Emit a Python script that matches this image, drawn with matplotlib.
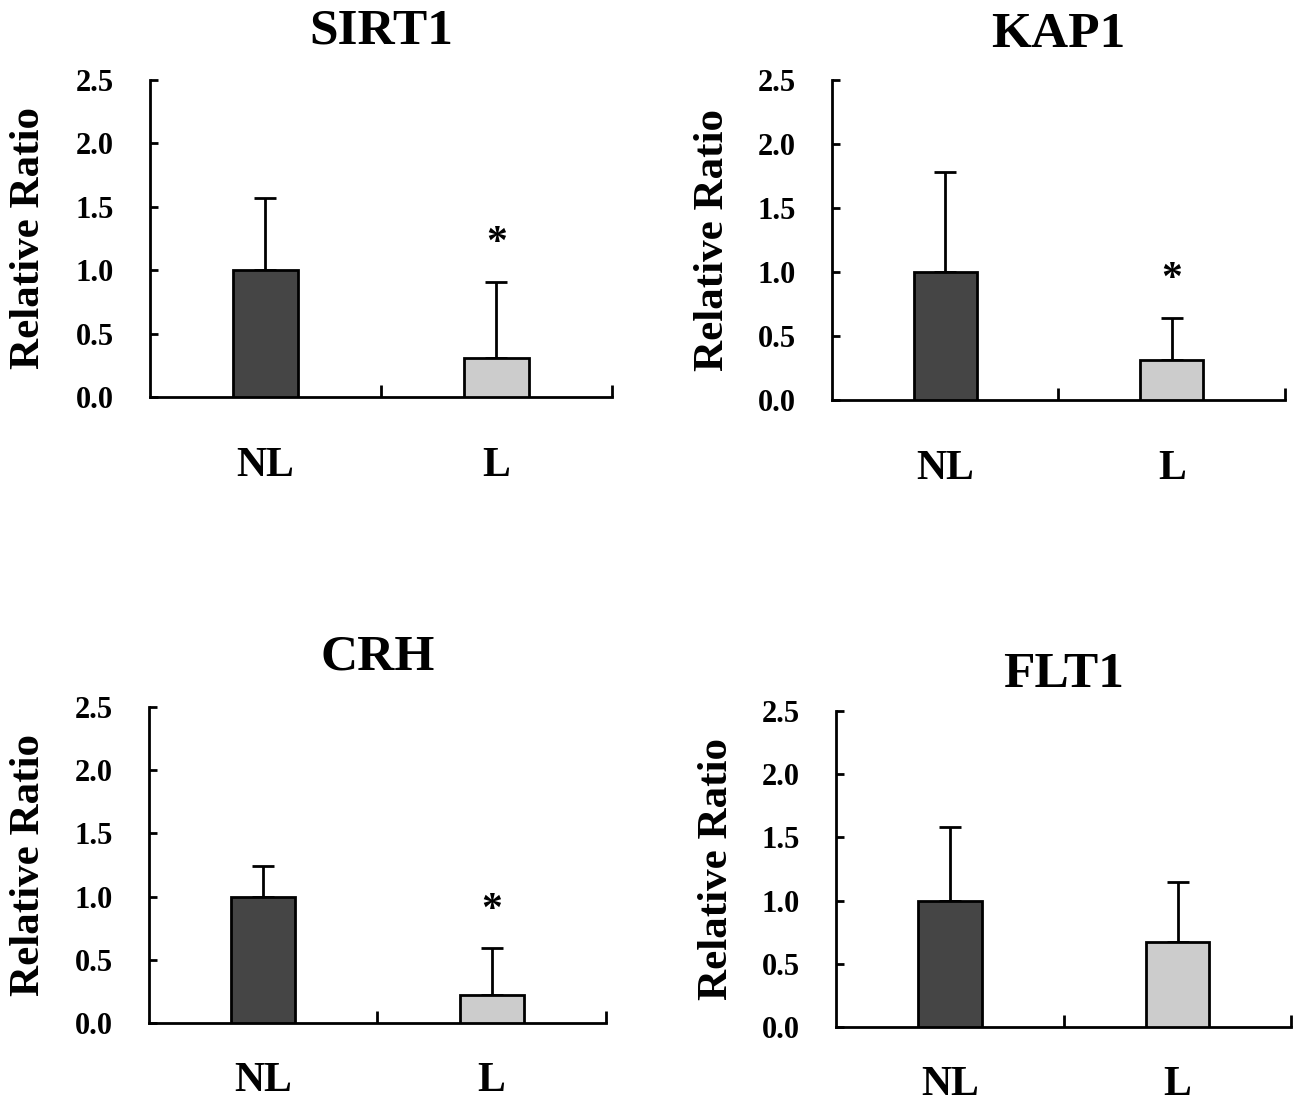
import matplotlib.pyplot as plt
import numpy as np

plt.rcParams['font.family'] = ['Liberation Serif', 'DejaVu Serif']
plt.rcParams['font.weight'] = 'bold'

# data
genes = ['SIRT1', 'KAP1', 'CRH', 'FLT1']
groups = ['NL', 'L']
means = [[1.0, 0.31], [1.0, 0.31], [1.0, 0.22], [1.0, 0.67]]
errs = [[0.57, 0.60], [0.78, 0.33], [0.24, 0.37], [0.58, 0.48]]
signif = [True, True, True, False]
yticks = [0.0, 0.5, 1.0, 1.5, 2.0, 2.5]

bar_colors = ['#454545', '#cccccc']

# axes boxes in figure fractions [left, bottom, width, height]
boxes = [[0.1159, 0.6401, 0.357, 0.2874],
         [0.643, 0.6374, 0.350, 0.290],
         [0.1151, 0.0725, 0.353, 0.2865],
         [0.646, 0.0689, 0.352, 0.2865]]
title_pads = [26, 24, 27, 17]
xlabel_pads = [36, 36, 28, 28]

fig = plt.figure(figsize=(12.94, 11.03), dpi=100)

for i, gene in enumerate(genes):
    ax = fig.add_axes(boxes[i])
    x = np.arange(len(groups))
    ax.bar(x, means[i], width=0.28, color=bar_colors, edgecolor='black',
           linewidth=2, zorder=3)
    ax.errorbar(x, means[i], yerr=[[0, 0], errs[i]], fmt='none',
                ecolor='black', elinewidth=2, capsize=8, capthick=2, zorder=2)
    if signif[i]:
        ax.text(1, means[i][1] + errs[i][1] + 0.3, '*', ha='center',
                va='center', fontsize=30, fontweight='bold')

    ax.set_xlim(-0.5, 1.5)
    ax.set_ylim(0, 2.5)
    ax.spines['top'].set_visible(False)
    ax.spines['right'].set_visible(False)
    ax.spines['left'].set_linewidth(2)
    ax.spines['bottom'].set_linewidth(2)

    ax.set_yticks(yticks)
    ax.set_yticklabels(['%.1f' % t for t in yticks])
    ax.tick_params(axis='y', direction='in', length=6, width=2,
                   labelsize=22, pad=26)

    ax.set_xticks(x)
    ax.set_xticklabels(groups)
    ax.tick_params(axis='x', which='major', length=0, labelsize=30,
                   pad=xlabel_pads[i])
    ax.set_xticks([0.5, 1.5], minor=True)
    ax.tick_params(axis='x', which='minor', direction='in', length=9, width=2)

    ax.set_ylabel('Relative Ratio', fontsize=31, fontweight='bold')
    ax.yaxis.set_label_coords(-0.22, 0.5)
    ax.set_title(gene, fontsize=37, fontweight='bold', pad=title_pads[i])

fig.savefig('out.png', dpi=100)
